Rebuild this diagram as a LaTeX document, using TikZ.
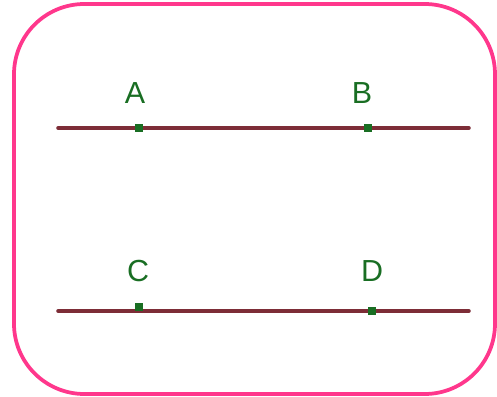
\documentclass[tikz,border=0pt]{standalone}
\usepackage{fontspec}
\setsansfont{Liberation Sans}
\usepackage{xcolor}
\usepackage{tikz}
\usetikzlibrary{positioning}
\definecolor{framepink}{RGB}{255,55,140}
\definecolor{linered}{RGB}{125,45,55}
\definecolor{ptgreen}{RGB}{25,110,35}

\tikzset{
  pt/.style={fill=ptgreen, inner sep=0pt, minimum size=7pt},
  ptlabel/.style={ptgreen, font=\sffamily\fontsize{26}{28}\selectfont, inner sep=0pt},
  paraline/.style={linered, line width=3pt}
}

\begin{document}
\begin{tikzpicture}[x=0.03cm, y=-0.03cm, line cap=round]
   \path[use as bounding box] (0,0) rectangle (497,397);
   % rounded frame
   \draw[framepink, line width=3.2pt, rounded corners=60] (14,4) rectangle (495,394);

   % the two lines
   \coordinate (l1s) at (58,128);
   \coordinate (l1e) at (469,128);
   \coordinate (l2s) at (58,311);
   \coordinate (l2e) at (469,311);
   \draw[paraline] (l1s) -- (l1e);
   \draw[paraline] (l2s) -- (l2e);

   % points and labels
   \node[pt] (A) at (139,128) {};
   \node[pt] (B) at (368,128) {};
   \node[pt] (C) at (139,307) {};
   \node[pt] (D) at (372,311) {};
   \node[ptlabel] (la) at (135,93) {A};
   \node[ptlabel] (lb) at (362,93) {B};
   \node[ptlabel] (lc) at (138,271) {C};
   \node[ptlabel] (ld) at (372,271) {D};
\end{tikzpicture}
\end{document}
